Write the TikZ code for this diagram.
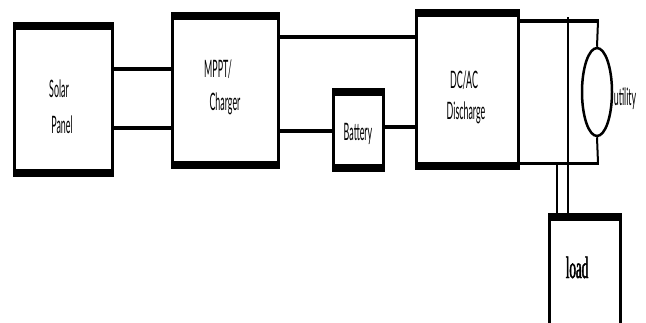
\documentclass[tikz,border=0pt]{standalone}
\usepackage{fontspec}
\newfontfamily\lab[FakeStretch=0.37]{Lato}
\newfontfamily\labs[FakeStretch=0.42,FakeBold=1.5]{Liberation Serif}
\usetikzlibrary{shapes.geometric}
\tikzset{
 blk/.style={draw, line width=3pt, inner sep=0pt},
 wire/.style={line width=4pt},
 thinw/.style={line width=1.5pt},
 txt/.style={font=\lab\fontsize{24}{26}\selectfont, anchor=base, inner sep=0pt},
}
\newcommand\bars[1]{\fill (#1.north west) rectangle ([yshift=-8pt]#1.north east); \fill ([yshift=8pt]#1.south west) rectangle (#1.south east);}
\begin{document}
\begin{tikzpicture}[x=1pt,y=-1pt]
\useasboundingbox (0,0) rectangle (646,322);
\clip (0,0) rectangle (646,322);
\fill[white] (0,0) rectangle (646,322);
% boxes
\node[blk, minimum width=98pt, minimum height=152pt] (sp) at (63.5,99.5) {};
\node[blk, minimum width=106pt, minimum height=154pt] (mp) at (225.5,90.5) {};
\node[blk, minimum width=50pt, minimum height=81pt] (bt) at (358.5,130) {};
\node[blk, minimum width=102pt, minimum height=158pt] (dc) at (467.5,89.5) {};
\node[blk, minimum width=71pt, minimum height=129pt] (ld) at (585,279) {};
\bars{sp}\bars{mp}\bars{bt}\bars{dc}\bars{ld}
% utility source
\node[ellipse, draw, line width=2.5pt, minimum width=30pt, minimum height=88pt, inner sep=0pt] (ut) at (597,92) {};
% labels
\node[txt] (t1) at (59,97) {Solar};
\node[txt] (t2) at (62,133) {Panel};
\node[txt] (t3) at (218,77) {MPPT/};
\node[txt] (t4) at (225,110) {Charger};
\node[txt] (t5) at (358,140) {Battery};
\node[txt] (t6) at (464,88) {DC/AC};
\node[txt] (t7) at (466,119) {Discharge};
\node[txt] (t8) at (625,105) {utility};
\node[font=\labs\fontsize{31}{33}\selectfont, anchor=base, inner sep=0pt] (t9) at (577,278) {load};
% wires
\draw[wire] (sp.east |- 0,69) -- (mp.west |- 0,69);
\draw[wire] (sp.east |- 0,128) -- (mp.west |- 0,128);
\draw[wire] (mp.east |- 0,37) -- (dc.west |- 0,37);
\draw[wire] (mp.east |- 0,131) -- (bt.west |- 0,131);
\draw[wire] (bt.east |- 0,127) -- (dc.west |- 0,127);
\coordinate (tr) at (598,21);
\coordinate (br) at (598,163);
\coordinate (v1) at (568,17);
\coordinate (v2) at (557,163);
\draw[wire] (dc.east |- tr) -- ([xshift=1pt]tr);
\draw[line width=3pt] (dc.east |- br) -- ([xshift=1pt]br);
\draw[line width=2pt] (tr) -- (ut.north);
\draw[line width=2pt] (ut.south) -- (br);
\draw[thinw] (v1) -- (v1 |- ld.north);
\draw[thinw] (v2) -- (v2 |- ld.north);
\end{tikzpicture}
\end{document}
